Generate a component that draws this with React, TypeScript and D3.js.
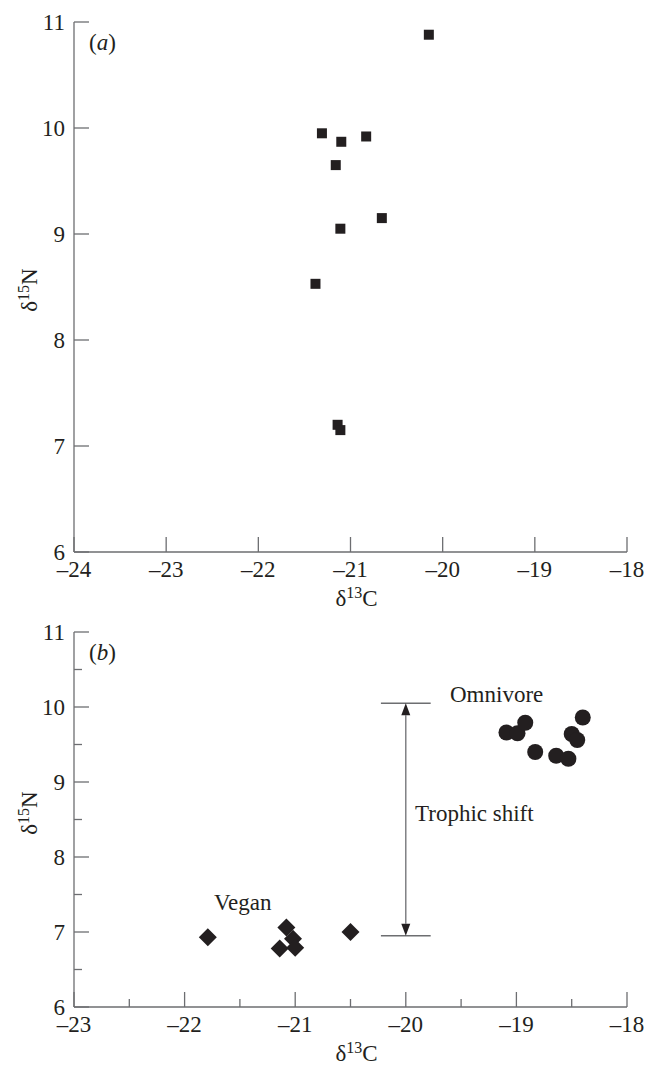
import React from "react";
import * as d3 from "d3";

// Panel (a) data
const aC13 = [-20.15, -21.31, -21.1, -20.83, -21.16, -20.66, -21.11, -21.38, -21.14, -21.11];
const aN15 = [10.88, 9.95, 9.87, 9.92, 9.65, 9.15, 9.05, 8.53, 7.2, 7.15];

// Panel (b) data
const veganC13 = [-21.79, -21.08, -21.02, -21.14, -21.0, -20.5];
const veganN15 = [6.93, 7.06, 6.91, 6.78, 6.79, 7.0];
const omniC13 = [-19.09, -18.99, -18.92, -18.83, -18.64, -18.53, -18.5, -18.45, -18.4];
const omniN15 = [9.66, 9.65, 9.79, 9.4, 9.35, 9.31, 9.64, 9.56, 9.86];

const aXTicks = [-24, -23, -22, -21, -20, -19, -18];
const bXTicks = [-23, -22, -21, -20, -19, -18];
const yTicks = [6, 7, 8, 9, 10, 11];
const bXMinor = [-22.5, -21.5, -20.5, -19.5, -18.5];
const bYMinor = [6.5, 7.5, 8.5, 9.5, 10.5];

const trophicX = -20;
const trophicLow = 6.95;
const trophicHigh = 10.05;
const trophicBarHalf = 0.225;

const FONT = "'Liberation Serif', 'Times New Roman', serif";
const AXIS = "#6d6e71";
const INK = "#231f20";
const FS = 23;

const fmt = (v: number) => (v < 0 ? "\u2013" + Math.abs(v) : String(v));

function Axes({ x, y, xTicks, xMinor, yMinor, top, bottom, label, titleY }: any) {
  const x0 = x.range()[0];
  const x1 = x.range()[1];
  const major = 15;
  const minor = 8;
  return (
    <g>
      <line x1={x0} x2={x0} y1={top} y2={bottom} stroke={AXIS} strokeWidth={1.3} />
      <line x1={x0} x2={x1} y1={bottom} y2={bottom} stroke={AXIS} strokeWidth={1.3} />
      {yTicks.map((t) => (
        <g key={"y" + t}>
          <line x1={x0} x2={x0 + major} y1={y(t)} y2={y(t)} stroke={AXIS} strokeWidth={1.3} />
          <text x={x0 - 9} y={y(t)} dy="0.33em" textAnchor="end" fontFamily={FONT} fontSize={FS} fill={INK}>
            {t}
          </text>
        </g>
      ))}
      {(yMinor || []).map((t: number) => (
        <line key={"ym" + t} x1={x0} x2={x0 + minor} y1={y(t)} y2={y(t)} stroke={AXIS} strokeWidth={1.3} />
      ))}
      {xTicks.map((t: number) => (
        <g key={"x" + t}>
          <line x1={x(t)} x2={x(t)} y1={bottom} y2={bottom - major} stroke={AXIS} strokeWidth={1.3} />
          <text x={x(t)} y={bottom + 25} textAnchor="middle" fontFamily={FONT} fontSize={FS} fill={INK}>
            {fmt(t)}
          </text>
        </g>
      ))}
      {(xMinor || []).map((t: number) => (
        <line key={"xm" + t} x1={x(t)} x2={x(t)} y1={bottom} y2={bottom - minor} stroke={AXIS} strokeWidth={1.3} />
      ))}
      <text x={(x0 + x1) / 2 + 6} y={bottom + 54} textAnchor="middle" fontFamily={FONT} fontSize={FS} fill={INK}>
        δ<tspan fontSize={16} dy={-8}>13</tspan>
        <tspan dy={8}>C</tspan>
      </text>
      <text
        transform={`translate(37, ${titleY}) rotate(-90)`}
        textAnchor="middle"
        fontFamily={FONT}
        fontSize={FS}
        fill={INK}
      >
        δ<tspan fontSize={16} dy={-8}>15</tspan>
        <tspan dy={8}>N</tspan>
      </text>
      <text x={x0 + 15} y={top + 28} fontFamily={FONT} fontSize={FS} fill={INK}>
        (<tspan fontStyle="italic">{label}</tspan>)
      </text>
    </g>
  );
}

export default function App() {
  const xA = d3.scaleLinear().domain([-24, -18]).range([74, 627]);
  const yA = d3.scaleLinear().domain([6, 11]).range([552, 22]);
  const xB = d3.scaleLinear().domain([-23, -18]).range([74, 627]);
  const yB = d3.scaleLinear().domain([6, 11]).range([1007, 632]);

  const sq = 10;
  const dia = 9;
  const ax = xB(trophicX);
  const yHi = yB(trophicHigh);
  const yLo = yB(trophicLow);
  const ah = 12;
  const aw = 4.5;

  return (
    <svg
      width={661}
      height={1065}
      style={{ position: "absolute", left: 0, top: 0, display: "block", background: "#fff" }}
    >
      <Axes x={xA} y={yA} xTicks={aXTicks} top={22} bottom={552} label="a" titleY={290} />
      {aC13.map((c, i) => (
        <rect key={"a" + i} x={xA(c) - sq / 2} y={yA(aN15[i]) - sq / 2} width={sq} height={sq} fill={INK} />
      ))}

      <Axes
        x={xB}
        y={yB}
        xTicks={bXTicks}
        xMinor={bXMinor}
        yMinor={bYMinor}
        top={632}
        bottom={1007}
        label="b"
        titleY={813}
      />
      {veganC13.map((c, i) => {
        const cx = xB(c);
        const cy = yB(veganN15[i]);
        return (
          <path
            key={"v" + i}
            d={`M${cx},${cy - dia}L${cx + dia},${cy}L${cx},${cy + dia}L${cx - dia},${cy}Z`}
            fill={INK}
          />
        );
      })}
      {omniC13.map((c, i) => (
        <circle key={"o" + i} cx={xB(c)} cy={yB(omniN15[i])} r={8} fill={INK} />
      ))}

      {/* Trophic shift indicator */}
      <line x1={xB(trophicX - trophicBarHalf)} x2={xB(trophicX + trophicBarHalf)} y1={yHi} y2={yHi} stroke={AXIS} strokeWidth={1.5} />
      <line x1={xB(trophicX - trophicBarHalf)} x2={xB(trophicX + trophicBarHalf)} y1={yLo} y2={yLo} stroke={AXIS} strokeWidth={1.5} />
      <line x1={ax} x2={ax} y1={yHi + ah} y2={yLo - ah} stroke={AXIS} strokeWidth={1.3} />
      <path d={`M${ax},${yHi}L${ax + aw},${yHi + ah}L${ax - aw},${yHi + ah}Z`} fill={INK} />
      <path d={`M${ax},${yLo}L${ax + aw},${yLo - ah}L${ax - aw},${yLo - ah}Z`} fill={INK} />

      <text x={415} y={821} fontFamily={FONT} fontSize={FS} fill={INK}>Trophic shift</text>
      <text x={450} y={702} fontFamily={FONT} fontSize={FS} fill={INK}>Omnivore</text>
      <text x={214} y={910} fontFamily={FONT} fontSize={FS} fill={INK}>Vegan</text>
    </svg>
  );
}
